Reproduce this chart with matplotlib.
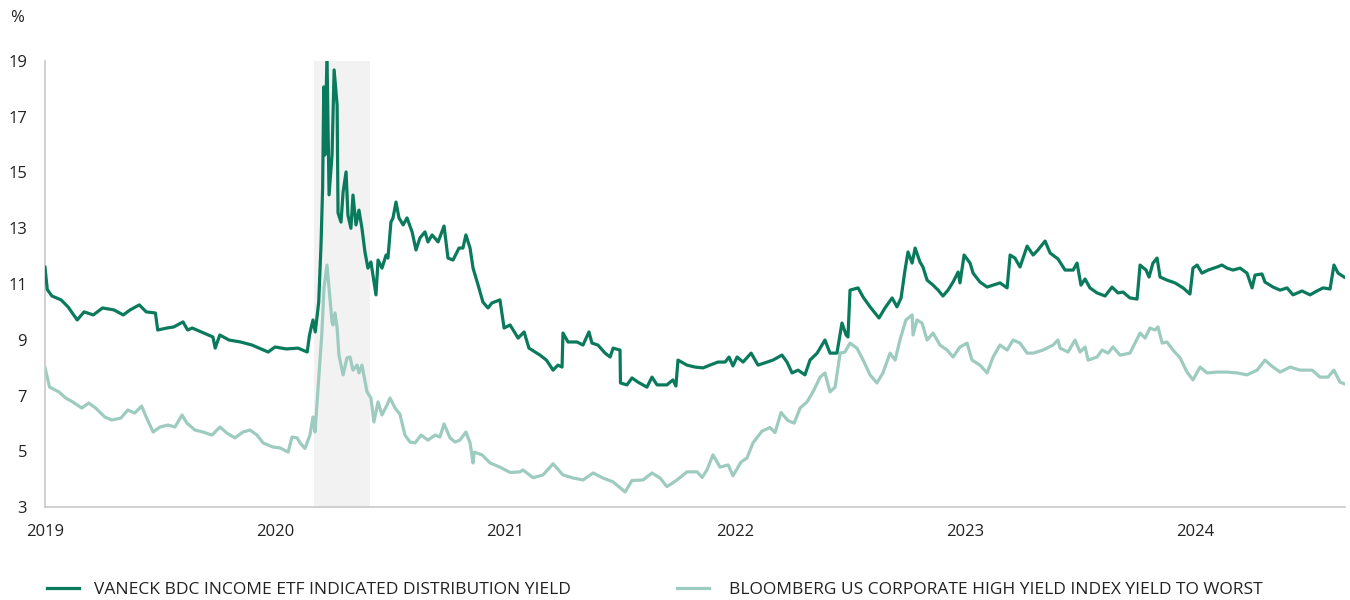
import matplotlib.pyplot as plt

# fecha en años decimales, rendimiento en %
bdc_t = [2019.00, 2019.01, 2019.03, 2019.07, 2019.10, 2019.14, 2019.17, 2019.21, 2019.25, 2019.30,
         2019.34, 2019.37, 2019.41, 2019.44, 2019.48, 2019.49, 2019.53, 2019.56, 2019.60, 2019.62,
         2019.64, 2019.69, 2019.73, 2019.74, 2019.76, 2019.80, 2019.85, 2019.90, 2019.97, 2020.00,
         2020.05, 2020.10, 2020.14, 2020.15, 2020.165, 2020.175, 2020.19, 2020.20, 2020.207, 2020.212,
         2020.217, 2020.226, 2020.235, 2020.248, 2020.257, 2020.27, 2020.274, 2020.287, 2020.296, 2020.309,
         2020.317, 2020.33, 2020.339, 2020.352, 2020.365, 2020.378, 2020.391, 2020.404, 2020.417, 2020.439,
         2020.448, 2020.465, 2020.483, 2020.491, 2020.504, 2020.513, 2020.526, 2020.539, 2020.557, 2020.574,
         2020.596, 2020.613, 2020.63, 2020.652, 2020.665, 2020.683, 2020.709, 2020.735, 2020.752, 2020.774,
         2020.80, 2020.817, 2020.83, 2020.848, 2020.861, 2020.883, 2020.904, 2020.926, 2020.943, 2020.978,
         2020.996, 2021.022, 2021.057, 2021.083, 2021.104, 2021.152, 2021.18, 2021.209, 2021.23, 2021.248,
         2021.252, 2021.274, 2021.313, 2021.339, 2021.365, 2021.378, 2021.404, 2021.435, 2021.457, 2021.47,
         2021.50, 2021.502, 2021.53, 2021.552, 2021.578, 2021.617, 2021.639, 2021.661, 2021.704, 2021.73,
         2021.743, 2021.752, 2021.791, 2021.826, 2021.861, 2021.891, 2021.926, 2021.957, 2021.974, 2021.991,
         2022.009, 2022.035, 2022.07, 2022.10, 2022.139, 2022.165, 2022.204, 2022.226, 2022.248, 2022.274,
         2022.304, 2022.326, 2022.357, 2022.37, 2022.391, 2022.413, 2022.443, 2022.465, 2022.483, 2022.491,
         2022.50, 2022.535, 2022.557, 2022.587, 2022.626, 2022.652, 2022.683, 2022.704, 2022.722, 2022.739,
         2022.752, 2022.77, 2022.783, 2022.804, 2022.817, 2022.835, 2022.861, 2022.883, 2022.904, 2022.926,
         2022.948, 2022.97, 2022.978, 2022.996, 2023.022, 2023.035, 2023.065, 2023.096, 2023.122, 2023.152,
         2023.183, 2023.196, 2023.217, 2023.239, 2023.27, 2023.296, 2023.317, 2023.348, 2023.37, 2023.404,
         2023.435, 2023.47, 2023.487, 2023.504, 2023.522, 2023.543, 2023.574, 2023.609, 2023.639, 2023.665,
         2023.687, 2023.717, 2023.748, 2023.761, 2023.787, 2023.80, 2023.817, 2023.835, 2023.848, 2023.878,
         2023.913, 2023.948, 2023.978, 2023.991, 2024.009, 2024.03, 2024.057, 2024.096, 2024.117, 2024.139,
         2024.165, 2024.196, 2024.226, 2024.248, 2024.261, 2024.291, 2024.304, 2024.339, 2024.37, 2024.40,
         2024.426, 2024.465, 2024.50, 2024.53, 2024.557, 2024.587, 2024.604, 2024.622, 2024.648]
bdc_v = [11.6, 10.8, 10.57, 10.43, 10.18, 9.71, 10.0, 9.89, 10.14, 10.07,
         9.89, 10.07, 10.25, 10.0, 9.96, 9.35, 9.42, 9.46, 9.64, 9.35,
         9.42, 9.24, 9.10, 8.7, 9.17, 8.99, 8.92, 8.81, 8.56, 8.74,
         8.67, 8.70, 8.56, 9.17, 9.71, 9.28, 10.35, 12.4, 14.44, 18.07,
         15.63, 19.2, 14.2, 15.63, 18.68, 17.42, 13.55, 13.22, 14.3, 15.02,
         13.47, 13.0, 14.19, 13.12, 13.65, 13.0, 12.15, 11.57, 11.79, 10.61,
         11.86, 11.57, 12.04, 11.93, 13.22, 13.37, 13.94, 13.37, 13.12, 13.37,
         12.87, 12.22, 12.65, 12.87, 12.51, 12.76, 12.51, 13.08, 11.93, 11.86,
         12.29, 12.29, 12.76, 12.29, 11.57, 10.96, 10.35, 10.14, 10.32, 10.43,
         9.42, 9.53, 9.06, 9.28, 8.70, 8.45, 8.27, 7.91, 8.09, 8.02,
         9.24, 8.92, 8.92, 8.81, 9.28, 8.88, 8.81, 8.52, 8.38, 8.70,
         8.63, 7.45, 7.38, 7.63, 7.48, 7.30, 7.66, 7.38, 7.38, 7.56,
         7.34, 8.27, 8.09, 8.02, 7.99, 8.09, 8.20, 8.20, 8.38, 8.06,
         8.38, 8.20, 8.52, 8.09, 8.20, 8.27, 8.45, 8.20, 7.81, 7.91,
         7.74, 8.27, 8.52, 8.70, 8.99, 8.52, 8.52, 9.60, 9.17, 9.10,
         10.78, 10.86, 10.53, 10.18, 9.78, 10.14, 10.50, 10.18, 10.50, 11.50,
         12.15, 11.75, 12.29, 11.79, 11.61, 11.14, 10.96, 10.78, 10.57, 10.78,
         11.07, 11.43, 11.04, 12.04, 11.75, 11.39, 11.07, 10.89, 10.96, 11.04,
         10.86, 12.04, 11.93, 11.61, 12.36, 12.04, 12.22, 12.54, 12.11, 11.90,
         11.50, 11.50, 11.75, 10.96, 11.18, 10.86, 10.68, 10.57, 10.89, 10.68,
         10.71, 10.50, 10.46, 11.68, 11.50, 11.25, 11.75, 11.93, 11.25, 11.14,
         11.04, 10.86, 10.64, 11.57, 11.68, 11.39, 11.50, 11.61, 11.68, 11.57,
         11.50, 11.57, 11.39, 10.86, 11.32, 11.36, 11.07, 10.89, 10.78, 10.86,
         10.61, 10.75, 10.61, 10.75, 10.86, 10.82, 11.68, 11.39, 11.25]

hy_t = [2019.00, 2019.02, 2019.06, 2019.09, 2019.12, 2019.16, 2019.19, 2019.22, 2019.26, 2019.29,
        2019.33, 2019.36, 2019.39, 2019.42, 2019.44, 2019.47, 2019.50, 2019.535, 2019.565, 2019.596,
        2019.617, 2019.652, 2019.687, 2019.726, 2019.761, 2019.791, 2019.826, 2019.861, 2019.891, 2019.922,
        2019.948, 2019.991, 2020.022, 2020.057, 2020.074, 2020.096, 2020.109, 2020.13, 2020.152, 2020.165,
        2020.174, 2020.187, 2020.204, 2020.213, 2020.226, 2020.235, 2020.248, 2020.252, 2020.261, 2020.27,
        2020.278, 2020.296, 2020.313, 2020.326, 2020.339, 2020.357, 2020.365, 2020.378, 2020.40, 2020.417,
        2020.43, 2020.448, 2020.465, 2020.487, 2020.50, 2020.522, 2020.543, 2020.565, 2020.587, 2020.609,
        2020.635, 2020.665, 2020.696, 2020.717, 2020.735, 2020.761, 2020.783, 2020.804, 2020.83, 2020.848,
        2020.861, 2020.866, 2020.90, 2020.935, 2020.978, 2021.022, 2021.065, 2021.078, 2021.122, 2021.165,
        2021.209, 2021.252, 2021.296, 2021.339, 2021.383, 2021.426, 2021.47, 2021.522, 2021.552, 2021.60,
        2021.639, 2021.674, 2021.704, 2021.748, 2021.791, 2021.835, 2021.857, 2021.878, 2021.904, 2021.935,
        2021.97, 2021.991, 2022.026, 2022.052, 2022.078, 2022.117, 2022.152, 2022.174, 2022.20, 2022.23,
        2022.257, 2022.283, 2022.313, 2022.339, 2022.37, 2022.391, 2022.413, 2022.435, 2022.457, 2022.478,
        2022.50, 2022.53, 2022.557, 2022.587, 2022.617, 2022.643, 2022.674, 2022.696, 2022.717, 2022.743,
        2022.77, 2022.774, 2022.791, 2022.813, 2022.835, 2022.861, 2022.891, 2022.922, 2022.948, 2022.978,
        2023.009, 2023.03, 2023.065, 2023.096, 2023.122, 2023.152, 2023.183, 2023.209, 2023.239, 2023.27,
        2023.296, 2023.339, 2023.383, 2023.404, 2023.413, 2023.448, 2023.478, 2023.50, 2023.522, 2023.535,
        2023.574, 2023.596, 2023.622, 2023.643, 2023.674, 2023.717, 2023.739, 2023.761, 2023.783, 2023.804,
        2023.826, 2023.839, 2023.857, 2023.878, 2023.904, 2023.935, 2023.965, 2023.991, 2024.022, 2024.052,
        2024.096, 2024.139, 2024.183, 2024.226, 2024.27, 2024.304, 2024.339, 2024.37, 2024.413, 2024.457,
        2024.509, 2024.543, 2024.578, 2024.604, 2024.63, 2024.652]
hy_v = [7.99, 7.30, 7.13, 6.91, 6.77, 6.55, 6.73, 6.55, 6.23, 6.12,
        6.19, 6.48, 6.37, 6.62, 6.23, 5.69, 5.87, 5.94, 5.87, 6.30,
        6.01, 5.76, 5.69, 5.58, 5.87, 5.65, 5.48, 5.69, 5.76, 5.58,
        5.30, 5.15, 5.12, 4.97, 5.51, 5.48, 5.30, 5.10, 5.58, 6.23,
        5.69, 7.27, 9.28, 10.86, 11.68, 10.86, 9.64, 9.53, 9.96, 9.42,
        8.45, 7.74, 8.35, 8.38, 7.91, 8.09, 7.81, 8.09, 7.13, 6.91,
        6.05, 6.77, 6.30, 6.66, 6.91, 6.55, 6.33, 5.58, 5.33, 5.30,
        5.58, 5.40, 5.58, 5.51, 5.98, 5.48, 5.33, 5.40, 5.69, 5.30,
        4.58, 4.97, 4.87, 4.58, 4.43, 4.24, 4.26, 4.33, 4.05, 4.15,
        4.55, 4.15, 4.04, 3.97, 4.22, 4.04, 3.90, 3.54, 3.95, 3.97,
        4.22, 4.04, 3.73, 3.97, 4.26, 4.26, 4.06, 4.33, 4.87, 4.43,
        4.51, 4.12, 4.61, 4.76, 5.30, 5.72, 5.85, 5.67, 6.39, 6.10,
        6.01, 6.55, 6.77, 7.13, 7.66, 7.81, 7.13, 7.30, 8.52, 8.56,
        8.88, 8.70, 8.27, 7.74, 7.45, 7.81, 8.52, 8.27, 8.99, 9.71,
        9.89, 9.17, 9.71, 9.60, 8.99, 9.24, 8.81, 8.63, 8.38, 8.74,
        8.88, 8.27, 8.09, 7.81, 8.38, 8.81, 8.63, 8.99, 8.88, 8.52,
        8.52, 8.63, 8.81, 8.99, 8.70, 8.56, 8.99, 8.56, 8.74, 8.27,
        8.38, 8.63, 8.52, 8.74, 8.45, 8.52, 8.88, 9.24, 9.06, 9.42,
        9.35, 9.46, 8.88, 8.92, 8.63, 8.35, 7.84, 7.56, 8.02, 7.81,
        7.84, 7.84, 7.81, 7.74, 7.91, 8.27, 8.02, 7.84, 8.02, 7.91,
        7.91, 7.66, 7.66, 7.91, 7.48, 7.41]

years = [2019, 2020, 2021, 2022, 2023, 2024]
yticks = [3, 5, 7, 9, 11, 13, 15, 17, 19]
covid = (2020.17, 2020.414)

verde = '#0a7a5c'
verde_claro = '#9ecbbf'
texto = '#222222'

plt.rcParams['font.family'] = ['Open Sans', 'DejaVu Sans']

fig = plt.figure(figsize=(13.5, 6), dpi=100)
ax = fig.add_axes([45 / 1350, 1 - 507 / 600, 1300 / 1350, 446 / 600])

ax.axvspan(covid[0], covid[1], color='#f2f2f2', lw=0, zorder=0)
l_hy, = ax.plot(hy_t, hy_v, color=verde_claro, lw=2.3, solid_joinstyle='round', zorder=2)
l_bdc, = ax.plot(bdc_t, bdc_v, color=verde, lw=2.3, solid_joinstyle='round', zorder=3)

ax.set_xlim(2019, 2024.652)
ax.set_ylim(3, 19)
ax.set_xticks(years)
ax.set_xticklabels([str(y) for y in years])
ax.set_yticks(yticks)
ax.tick_params(length=0, labelsize=12, colors=texto)
ax.tick_params(axis='x', pad=12)
ax.tick_params(axis='y', pad=13)
for s in ['top', 'right']:
    ax.spines[s].set_visible(False)
for s in ['left', 'bottom']:
    ax.spines[s].set_color('#c8c8c8')
    ax.spines[s].set_linewidth(1.2)

fig.text(10 / 1350, 1 - 18 / 600, '%', fontsize=12, color=texto, va='center', ha='left')

# leyenda: dos entradas colocadas por separado
ley = [(l_bdc, 'VANECK BDC INCOME ETF INDICATED DISTRIBUTION YIELD', 47, 0.85),
       (l_hy, 'BLOOMBERG US CORPORATE HIGH YIELD INDEX YIELD TO WORST', 677, 1.15)]
for h, txt, x0, pad in ley:
    fig.legend([h], [txt], loc='center left', bbox_to_anchor=(x0 / 1350, 1 - 590 / 600),
               frameon=False, fontsize=12.5, handlelength=1.85, handletextpad=pad,
               borderpad=0, borderaxespad=0, labelcolor=texto)

fig.savefig('out.png', dpi=100)
